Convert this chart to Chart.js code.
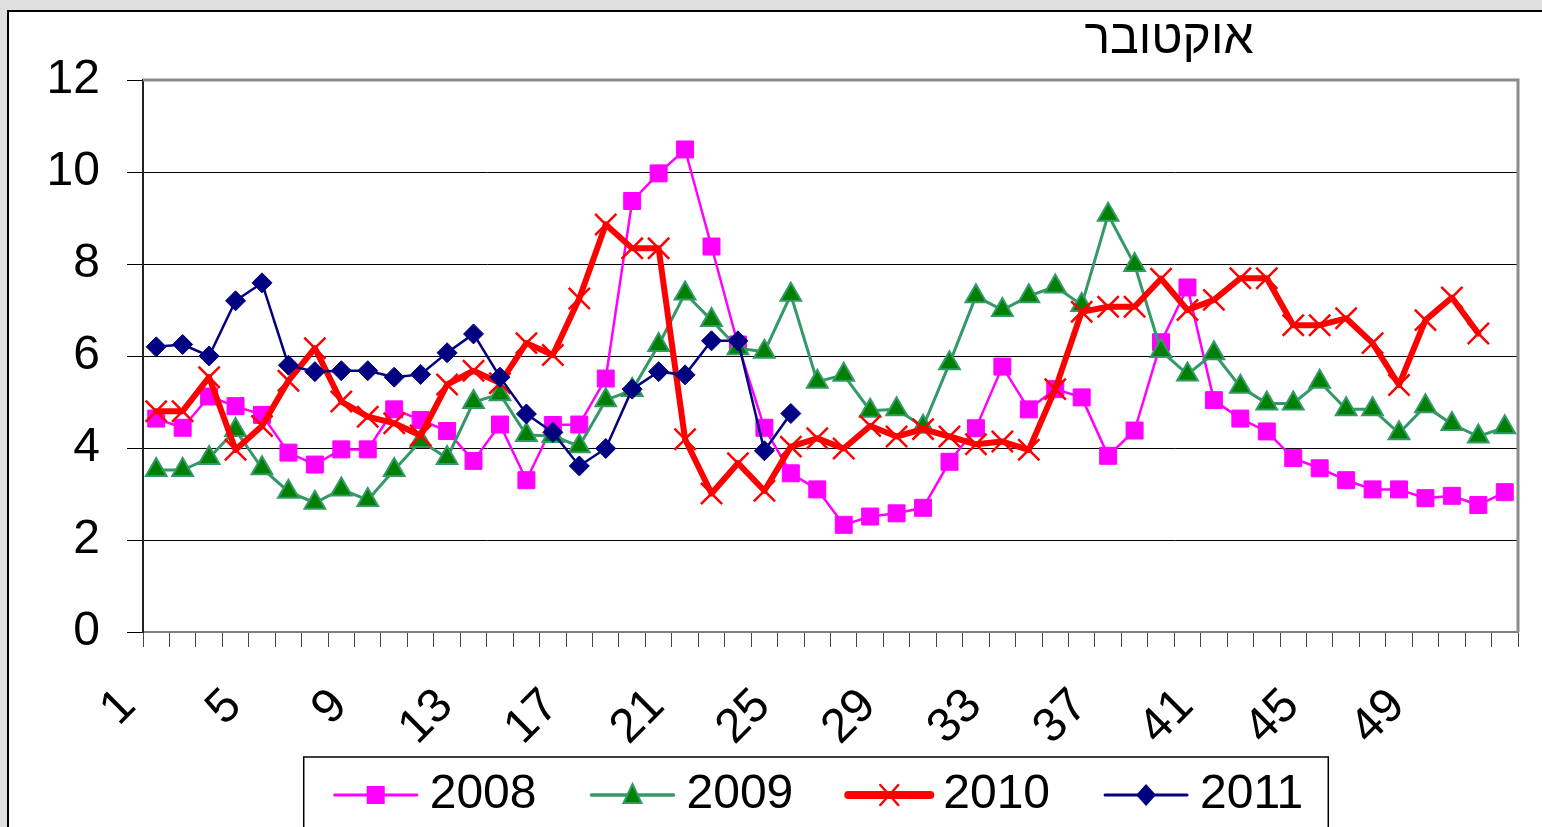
<!DOCTYPE html>
<html>
<head>
<meta charset="utf-8">
<script src="https://cdn.jsdelivr.net/npm/chart.js@4.4.1/dist/chart.umd.min.js"></script>
<style>
  html, body { margin: 0; padding: 0; width: 1542px; height: 827px; overflow: hidden; background: #e0e0e0; }
  #frame { position: absolute; left: 7px; top: 10px; width: 1700px; height: 900px; background: #fff;
           border-top: 2px solid #000; border-left: 2px solid #000; }
  canvas { display: block; }
</style>
</head>
<body>
<div id="frame"><canvas id="octChart" width="1633" height="817"></canvas></div>
<script>
// weeks on the x axis
const weeks = ["1","2","3","4","5","6","7","8","9","10","11","12","13","14","15","16","17","18","19","20",
  "21","22","23","24","25","26","27","28","29","30","31","32","33","34","35","36","37","38","39","40",
  "41","42","43","44","45","46","47","48","49","50","51","52"];

const years = ["2008", "2009", "2010", "2011"];
const yTicks = [0, 2, 4, 6, 8, 10, 12];
const titleText = "אוקטובר";

// values
const s2008 = [4.64, 4.44, 5.12, 4.91, 4.72, 3.90, 3.64, 3.97, 3.97, 4.84,
  4.61, 4.37, 3.72, 4.51, 3.30, 4.50, 4.51, 5.51, 9.37, 9.97,
  10.49, 8.38, 6.25, 4.44, 3.45, 3.10, 2.33, 2.51, 2.58, 2.70,
  3.70, 4.43, 5.77, 4.84, 5.28, 5.10, 3.83, 4.38, 6.30, 7.49,
  5.04, 4.64, 4.36, 3.78, 3.56, 3.30, 3.10, 3.10, 2.91, 2.96,
  2.76, 3.04];
const s2009 = [3.52, 3.52, 3.78, 4.39, 3.56, 3.05, 2.81, 3.10, 2.87, 3.52,
  4.15, 3.78, 5.00, 5.17, 4.28, 4.26, 4.04, 5.04, 5.26, 6.24,
  7.36, 6.78, 6.17, 6.09, 7.33, 5.44, 5.59, 4.81, 4.84, 4.46,
  5.84, 7.30, 7.00, 7.30, 7.51, 7.11, 9.07, 7.98, 6.11, 5.60,
  6.06, 5.33, 4.97, 4.97, 5.44, 4.84, 4.84, 4.32, 4.91, 4.52,
  4.25, 4.45];
const s2010 = [4.80, 4.80, 5.54, 3.96, 4.48, 5.46, 6.17, 5.01, 4.68, 4.54,
  4.27, 5.38, 5.68, 5.41, 6.28, 6.02, 7.25, 8.86, 8.34, 8.34,
  4.19, 3.01, 3.67, 3.07, 4.03, 4.21, 3.99, 4.48, 4.25, 4.41,
  4.25, 4.08, 4.14, 3.96, 5.28, 6.96, 7.07, 7.07, 7.68, 7.00,
  7.22, 7.69, 7.69, 6.67, 6.67, 6.82, 6.28, 5.37, 6.78, 7.27,
  6.49];
const s2011 = [6.20, 6.25, 6.00, 7.20, 7.59, 5.80, 5.66, 5.68, 5.68, 5.54,
  5.60, 6.07, 6.48, 5.54, 4.74, 4.34, 3.61, 3.99, 5.28, 5.66,
  5.59, 6.33, 6.33, 3.94, 4.75];

const FONT = '"Liberation Sans", Arial, sans-serif';

// line + marker sample for the legend
function drawSample(g, x, y, ds, shape) {
  g.save();
  g.strokeStyle = ds.borderColor;
  g.lineWidth = ds.borderWidth === 6 ? 8 : ds.borderWidth + 0.5;
  g.lineCap = "round";
  g.beginPath(); g.moveTo(x, y); g.lineTo(x + 82, y); g.stroke();
  const cx = x + 41;
  g.fillStyle = ds.pointBackgroundColor || ds.borderColor;
  g.strokeStyle = ds.pointBorderColor;
  g.lineWidth = 2;
  g.beginPath();
  if (shape === "rect") {
    g.rect(cx - 9, y - 9, 18, 18); g.fill();
  } else if (shape === "triangle") {
    g.moveTo(cx, y - 11); g.lineTo(cx + 9, y + 8); g.lineTo(cx - 9, y + 8); g.closePath(); g.fill(); g.stroke();
  } else if (shape === "crossRot") {
    g.lineWidth = 2.5;
    g.moveTo(cx - 9, y - 10); g.lineTo(cx + 9, y + 10); g.moveTo(cx + 9, y - 10); g.lineTo(cx - 9, y + 10); g.stroke();
  } else {
    g.moveTo(cx, y - 11); g.lineTo(cx + 10, y); g.lineTo(cx, y + 11); g.lineTo(cx - 10, y); g.closePath(); g.fill();
  }
  g.restore();
}

// gray frame on the top and right of the plot area
const plotFrame = {
  id: "plotFrame",
  beforeDatasetsDraw(chart) {
    const { ctx, chartArea: a } = chart;
    ctx.save();
    ctx.strokeStyle = "#8c8c8c";
    ctx.lineWidth = 3;
    ctx.beginPath();
    ctx.moveTo(a.left, a.top);
    ctx.lineTo(a.right, a.top);
    ctx.lineTo(a.right, a.bottom);
    ctx.stroke();
    ctx.restore();
  }
};

// title and boxed legend under the axis
const extras = {
  id: "extras",
  afterDraw(chart) {
    const ctx = chart.ctx;
    const a = chart.chartArea;
    ctx.save();
    ctx.font = "48px " + FONT;
    ctx.fillStyle = "#000";
    ctx.textAlign = "center";
    ctx.textBaseline = "alphabetic";
    ctx.fillText(titleText, a.right - 349, 41);

    const sets = chart.data.datasets;
    const widths = sets.map(ds => ctx.measureText(ds.label).width);
    const gap = 55;
    const inner = widths.reduce((s, w) => s + 95 + w, 0) + gap * (sets.length - 1);
    const boxW = 31 + inner + 25;
    const boxLeft = (a.left + a.right) / 2 - 14.5 - boxW / 2;
    const boxTop = a.bottom + 125;
    const midY = a.bottom + 163;
    ctx.strokeStyle = "#000";
    ctx.lineWidth = 1.5;
    ctx.strokeRect(boxLeft, boxTop, boxW, 200);
    let x = boxLeft + 31;
    ctx.textAlign = "left";
    ctx.textBaseline = "middle";
    sets.forEach((ds, i) => {
      drawSample(ctx, x, midY, ds, ds.pointStyle);
      ctx.fillStyle = "#000";
      ctx.fillText(ds.label, x + 95, midY);
      x += 95 + widths[i] + gap;
    });
    ctx.restore();
  }
};

new Chart(document.getElementById("octChart"), {
  type: "line",
  data: {
    labels: weeks,
    datasets: [
      {
        label: years[0], data: s2008, order: 4,
        borderColor: "#ff00ff", borderWidth: 2.5,
        pointStyle: "rect", pointRadius: 12,
        pointBackgroundColor: "#ff00ff", pointBorderColor: "#ff00ff", pointBorderWidth: 1
      },
      {
        label: years[1], data: s2009, order: 3,
        borderColor: "#339966", borderWidth: 3,
        pointStyle: "triangle", pointRadius: 12,
        pointBackgroundColor: "#008000", pointBorderColor: "#339966", pointBorderWidth: 2
      },
      {
        label: years[2], data: s2010, order: 2,
        borderColor: "#ff0000", borderWidth: 6, borderJoinStyle: "round", borderCapStyle: "round",
        pointStyle: "crossRot", pointRadius: 15,
        pointBorderColor: "#ff0000", pointBorderWidth: 2.5
      },
      {
        label: years[3], data: s2011, order: 1,
        borderColor: "#000080", borderWidth: 2.5,
        pointStyle: "rectRot", pointRadius: 10,
        pointBackgroundColor: "#000080", pointBorderColor: "#000080", pointBorderWidth: 1
      }
    ]
  },
  options: {
    responsive: false,
    animation: false,
    events: [],
    layout: { padding: { top: 68, right: 124, left: 0, bottom: 67 } },
    elements: { line: { tension: 0 } },
    scales: {
      x: {
        type: "category",
        offset: true,
        grid: { offset: true, drawOnChartArea: false, drawTicks: true, tickLength: 15, color: "#444", lineWidth: 1 },
        border: { color: "#808080", width: 2 },
        ticks: {
          autoSkip: false, minRotation: 45, maxRotation: 45,
          color: "#000", font: { family: FONT, size: 48 }, padding: 31, labelOffset: -28,
          callback: function (value, index) { return index % 4 === 0 ? weeks[index] : ""; }
        },
        afterFit: function (s) { s.height = 130; }
      },
      y: {
        min: yTicks[0], max: yTicks[yTicks.length - 1],
        afterBuildTicks: function (s) { s.ticks = yTicks.map(v => ({ value: v })); },
        grid: { color: "#000", lineWidth: 1, tickLength: 16 },
        border: { color: "#222", width: 2 },
        ticks: { color: "#000", font: { family: FONT, size: 48 }, padding: 27 },
        afterFit: function (s) { s.width = 134; }
      }
    },
    plugins: {
      title: { display: false },
      tooltip: { enabled: false },
      legend: { display: false }
    }
  },
  plugins: [plotFrame, extras]
});
</script>
</body>
</html>
